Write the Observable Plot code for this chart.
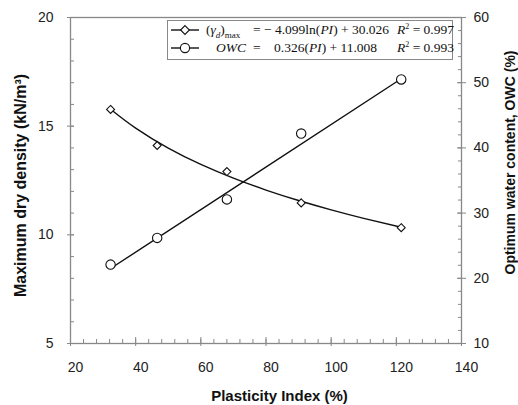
<!DOCTYPE html>
<html><head><meta charset="utf-8">
<script src="https://cdn.jsdelivr.net/npm/d3@7"></script>
<script src="https://cdn.jsdelivr.net/npm/@observablehq/plot@0.6"></script>
<style>
body{margin:0;background:#fff;}
#wrap{position:relative;width:518px;height:405px;}
#legend{position:absolute;left:167px;top:20px;width:286px;height:40px;border:1px solid #888;box-sizing:border-box;background:#fff;font-family:"Liberation Serif","Times New Roman",serif;font-size:13.5px;color:#111;}
.row{position:absolute;left:0;height:18px;width:100%;}
.row span,.row svg{position:absolute;white-space:nowrap;line-height:18px;top:0;}
sub,sup{line-height:0;}
</style></head>
<body>
<div id="wrap"></div>
<script>
// Data
const PI = [32.3, 46.6, 68.0, 90.8, 121.5];
const density = [15.77, 14.11, 12.91, 11.47, 10.33];   // left axis, kN/m3
const owc = [22.1, 26.2, 32.1, 42.2, 50.5];             // right axis, %
const fitPI = [32.3, 40, 50, 60, 70, 80, 90, 100, 110, 121.5];
const fitDensity = [15.78, 14.91, 13.99, 13.24, 12.61, 12.06, 11.58, 11.15, 10.76, 10.35];
const fitOwcPI = [32.3, 121.5];
const fitOwc = [21.5, 50.6];
const xTicks = [20, 40, 60, 80, 100, 120, 140];
const yTicks = [5, 10, 15, 20];
const y2Ticks = [10, 20, 30, 40, 50, 60];
const xLabel = "Plasticity Index (%)";
const yLabel = "Maximum dry density (kN/m³)";
const y2Label = "Optimum water content, OWC (%)";

// map right-axis values (10..60) onto left scale (5..20)
const toLeft = v => 5 + (v - 10) * 0.3;
const fromLeft = v => 10 + (v - 5) / 0.3;

const pts = PI.map((p, i) => ({pi: p, d: density[i], w: toLeft(owc[i])}));
const fitD = fitPI.map((p, i) => ({pi: p, v: fitDensity[i]}));
const fitW = fitOwcPI.map((p, i) => ({pi: p, v: toLeft(fitOwc[i])}));

const gray = "#888";
const chart = Plot.plot({
  width: 518, height: 405,
  marginLeft: 70, marginRight: 57, marginTop: 17, marginBottom: 62,
  x: {domain: [20, 140]},
  y: {domain: [5, 20]},
  style: {fontFamily: "'Liberation Sans', Arial, sans-serif", fontSize: "14px", color: "#222", background: "#fff", overflow: "visible"},
  marks: [
    Plot.frame({stroke: gray, strokeWidth: 1.3}),
    // x axis ticks
    Plot.axisX({ticks: d3.range(20, 141, 4), tickSize: 4, dy: -4, fill: "none", stroke: gray, label: null}),
    Plot.axisX({ticks: xTicks, tickSize: 9, dy: -6, fill: "none", stroke: gray, label: null}),
    Plot.axisX({ticks: xTicks, tickSize: 0, tickPadding: 19, dx: 5, tickFormat: d => String(d), fill: "#222", label: null}),
    // left axis ticks
    Plot.axisY({anchor: "left", ticks: d3.range(5, 20.01, 1), tickSize: 4, dx: 4, fill: "none", stroke: gray, label: null}),
    Plot.axisY({anchor: "left", ticks: yTicks, tickSize: 7, dx: 4, fill: "none", stroke: gray, label: null}),
    Plot.axisY({anchor: "left", ticks: yTicks, tickSize: 0, tickPadding: 17, tickFormat: d => String(d), fill: "#222", label: null}),
    // right axis ticks
    Plot.axisY({anchor: "right", ticks: d3.range(10, 60.01, 2).map(toLeft), tickSize: 4, dx: -4, fill: "none", stroke: gray, label: null}),
    Plot.axisY({anchor: "right", ticks: y2Ticks.map(toLeft), tickSize: 9, dx: -5, fill: "none", stroke: gray, label: null}),
    Plot.axisY({anchor: "right", ticks: y2Ticks.map(toLeft), tickSize: 0, tickPadding: 12, tickFormat: d => String(Math.round(fromLeft(d))), fill: "#222", label: null}),
    // fit lines
    Plot.line(fitD, {x: "pi", y: "v", curve: "natural", stroke: "#111", strokeWidth: 1.4}),
    Plot.line(fitW, {x: "pi", y: "v", stroke: "#111", strokeWidth: 1.4}),
    // data points
    Plot.dot(pts, {x: "pi", y: "d", symbol: "diamond2", r: 3.6, fill: "#fff", stroke: "#111", strokeWidth: 1.1}),
    Plot.dot(pts, {x: "pi", y: "w", symbol: "circle", r: 4.7, fill: "#fff", stroke: "#111", strokeWidth: 1.1}),
    // axis titles
    Plot.text([yLabel], {text: d => d, frameAnchor: "left", textAnchor: "middle", lineAnchor: "middle", rotate: -90, dx: -50, dy: 5, fontWeight: "bold", fontSize: 16, fill: "#111"}),
    Plot.text([y2Label], {text: d => d, frameAnchor: "right", textAnchor: "middle", lineAnchor: "middle", rotate: -90, dx: 49, dy: -18, fontWeight: "bold", fontSize: 14, fill: "#111"}),
    Plot.text([xLabel], {text: d => d, frameAnchor: "bottom", textAnchor: "middle", lineAnchor: "middle", dx: 13.5, dy: 53, fontWeight: "bold", fontSize: 15, fill: "#111"})
  ]
});
const wrap = document.getElementById("wrap");
wrap.appendChild(chart);

// legend
const legend = document.createElement("div");
legend.id = "legend";
legend.innerHTML = `
<div class="row" style="top:0px">
  <svg style="left:2px" width="30" height="18"><line x1="1" x2="29" y1="9" y2="9" stroke="#111" stroke-width="1.4"/><path d="M15,4.6L19.4,9L15,13.4L10.6,9Z" fill="#fff" stroke="#111" stroke-width="1.1"/></svg>
  <span style="left:38px">(<i>γ</i><sub style="font-size:9px"><i>d</i></sub>)<sub style="font-size:9px">max</sub></span>
  <span style="left:85px">=</span>
  <span style="left:96px">− 4.099ln(<i>PI</i>) + 30.026</span>
  <span style="left:229px"><i>R</i><sup style="font-size:8px">2</sup> = 0.997</span>
</div>
<div class="row" style="top:18px">
  <svg style="left:2px" width="30" height="18"><line x1="1" x2="29" y1="9" y2="9" stroke="#111" stroke-width="1.4"/><circle cx="15" cy="9" r="4.6" fill="#fff" stroke="#111" stroke-width="1.1"/></svg>
  <span style="left:48px"><i>OWC</i></span>
  <span style="left:85px">=</span>
  <span style="left:106px">0.326(<i>PI</i>) + 11.008</span>
  <span style="left:229px"><i>R</i><sup style="font-size:8px">2</sup> = 0.993</span>
</div>`;
wrap.appendChild(legend);
</script>
</body></html>
